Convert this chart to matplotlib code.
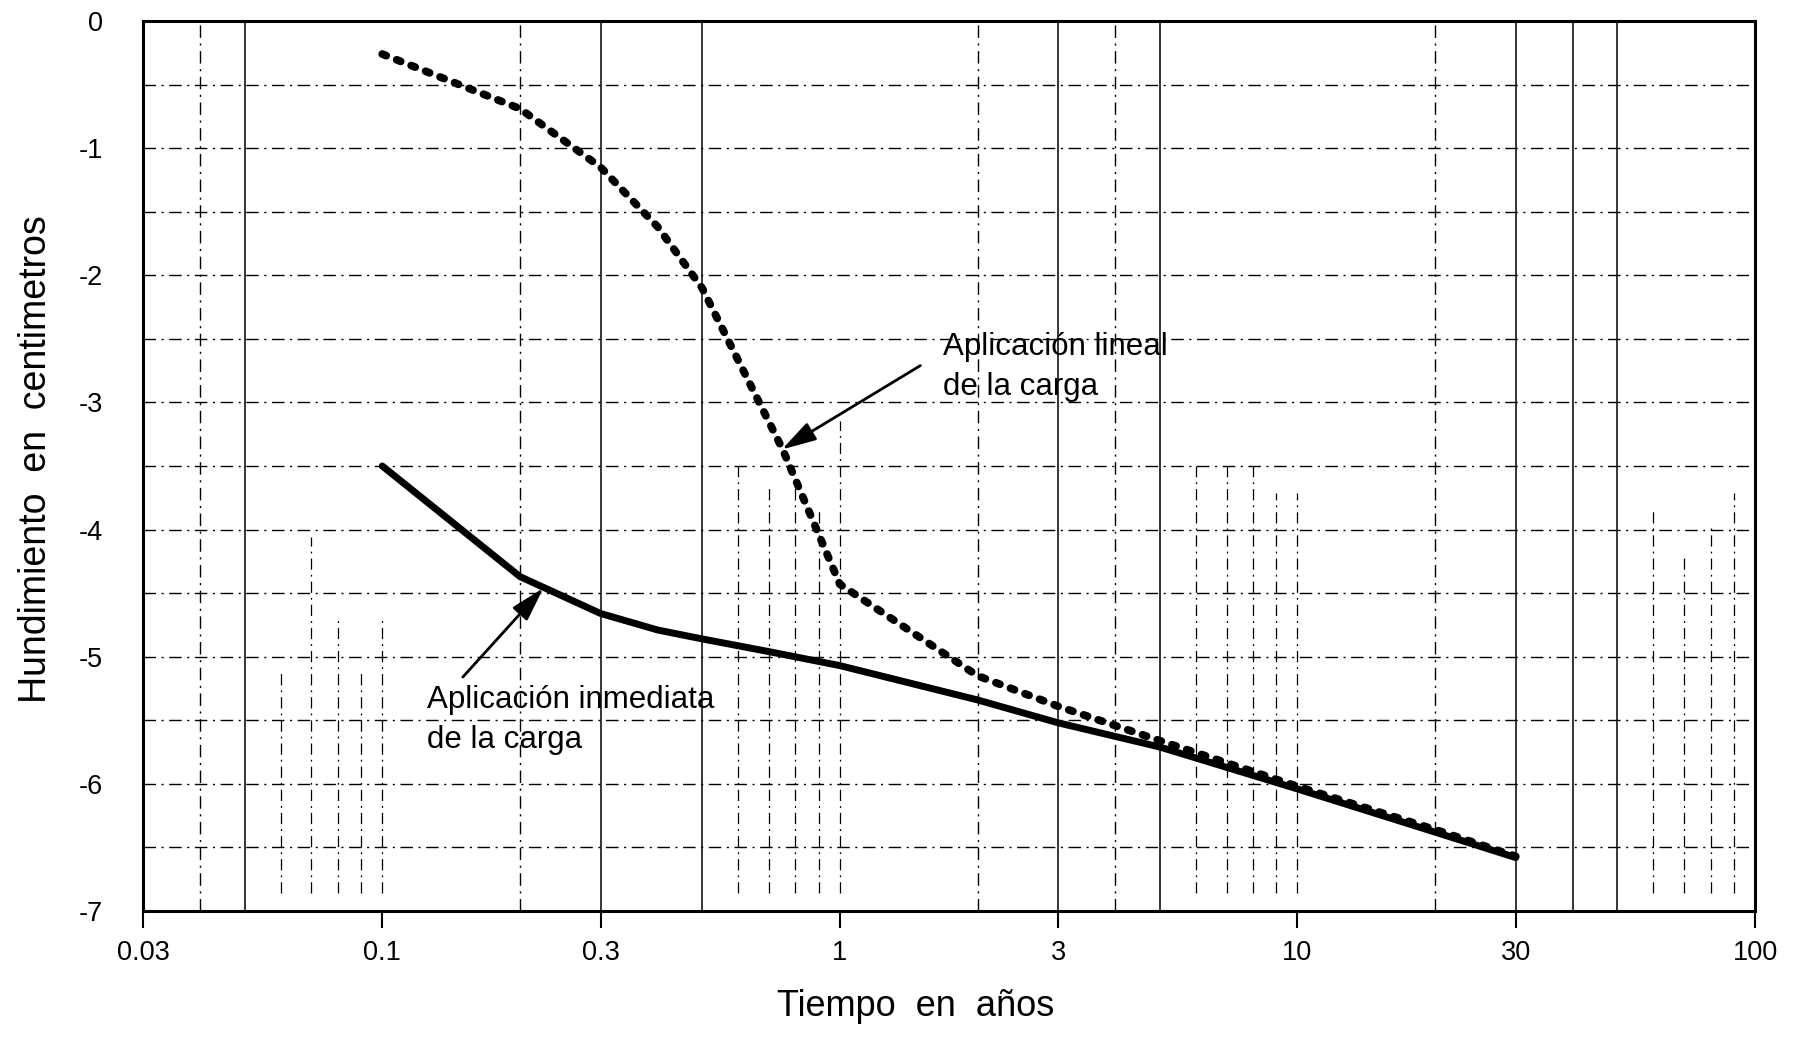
import matplotlib

matplotlib.use("Agg")
import matplotlib.pyplot as plt
from matplotlib.ticker import NullLocator

plt.rcParams["font.family"] = ["Liberation Sans", "DejaVu Sans"]
plt.rcParams["axes.unicode_minus"] = False

# ---- data ----
# immediate load application (solid)
inm_t = [0.1, 0.2, 0.3, 0.4, 0.5, 0.7, 1, 2, 3, 5, 10, 20, 30]
inm_s = [-3.50, -4.37, -4.66, -4.79, -4.86, -4.96, -5.07, -5.34, -5.52, -5.71, -6.04, -6.38, -6.58]
# linear load application (dotted)
lin_t = [0.1, 0.2, 0.3, 0.4, 0.5, 0.75, 1, 2, 3, 5, 10, 20, 30]
lin_s = [-0.26, -0.69, -1.15, -1.62, -2.10, -3.37, -4.43, -5.15, -5.39, -5.66, -6.02, -6.36, -6.57]

xticks = [0.03, 0.1, 0.3, 1, 3, 10, 30, 100]
xtick_labels = ["0.03", "0.1", "0.3", "1", "3", "10", "30", "100"]
yticks = [0, -1, -2, -3, -4, -5, -6, -7]
ytick_labels = ["0", "-1", "-2", "-3", "-4", "-5", "-6", "-7"]

# grid layout of the scanned log paper
grid_solid = [0.05, 0.3, 0.5, 3, 5, 30, 40, 50]
grid_dashdot = [0.04, 0.2, 2, 4, 20]
grid_lower = [(0.06, 0.27), (0.07, 0.42), (0.08, 0.33), (0.09, 0.27), (0.1, 0.33),
              (0.6, 0.50), (0.7, 0.48), (0.8, 0.48), (0.9, 0.45), (1, 0.55),
              (6, 0.50), (7, 0.50), (8, 0.50), (9, 0.47), (10, 0.47),
              (60, 0.45), (70, 0.40), (80, 0.43), (90, 0.47)]

fig = plt.figure(figsize=(17.93, 10.41), dpi=100)
ax = fig.add_axes([143 / 1793, 1 - 911 / 1041, 1612 / 1793, 890 / 1041])
ax.set_xscale("log")
ax.set_xlim(0.03, 100)
ax.set_ylim(-7, 0)

dd = (0, (9, 4, 1.5, 4))
for yv in [y / 2 for y in range(-13, 0)]:
    ax.axhline(yv, color="black", lw=1.0, ls=dd, zorder=1)
for xv in grid_solid:
    ax.axvline(xv, color="black", lw=1.1, zorder=1)
for xv in grid_dashdot:
    ax.axvline(xv, color="black", lw=1.0, ls=dd, zorder=1)
for xv, top in grid_lower:
    ax.axvline(xv, ymin=0.02, ymax=top, color="black", lw=0.9, ls=dd, zorder=1)

ax.plot(inm_t, inm_s, color="black", lw=5.0, solid_capstyle="round",
        solid_joinstyle="round", zorder=3)
ax.plot(lin_t, lin_s, color="black", lw=5.6, ls=(0, (0.55, 1.45)),
        dash_capstyle="round", zorder=3)

arrow = dict(arrowstyle="-|>,head_length=0.7,head_width=0.2", color="black",
             lw=2, shrinkA=0, shrinkB=0, mutation_scale=30)
ax.annotate("", xy=(0.747, -3.37), xytext=(1.5, -2.71), arrowprops=arrow, zorder=4)
ax.annotate("", xy=(0.225, -4.46), xytext=(0.15, -5.16), arrowprops=arrow, zorder=4)
ax.text(1.68, -2.72, "Aplicación lineal\nde la carga", fontsize=22.5,
        ha="left", va="center", linespacing=1.45, zorder=4)
ax.text(0.125, -5.50, "Aplicación inmediata\nde la carga", fontsize=22.5,
        ha="left", va="center", linespacing=1.45, zorder=4)

ax.set_xticks(xticks)
ax.set_xticklabels(xtick_labels)
ax.xaxis.set_minor_locator(NullLocator())
ax.set_yticks(yticks)
ax.set_yticklabels(ytick_labels)
ax.tick_params(axis="x", length=12, width=1.5, direction="out", pad=9, labelsize=19.5)
ax.tick_params(axis="y", length=0, pad=29, labelsize=19.5)
for sp in ax.spines.values():
    sp.set_linewidth(2.2)

ax.set_xlabel("Tiempo  en  años", fontsize=26)
ax.xaxis.set_label_coords(0.4795, -0.088)
ax.set_ylabel("Hundimiento  en  centimetros", fontsize=27)
ax.yaxis.set_label_coords(-0.055, 0.508)

fig.savefig("out.png", dpi=100)
